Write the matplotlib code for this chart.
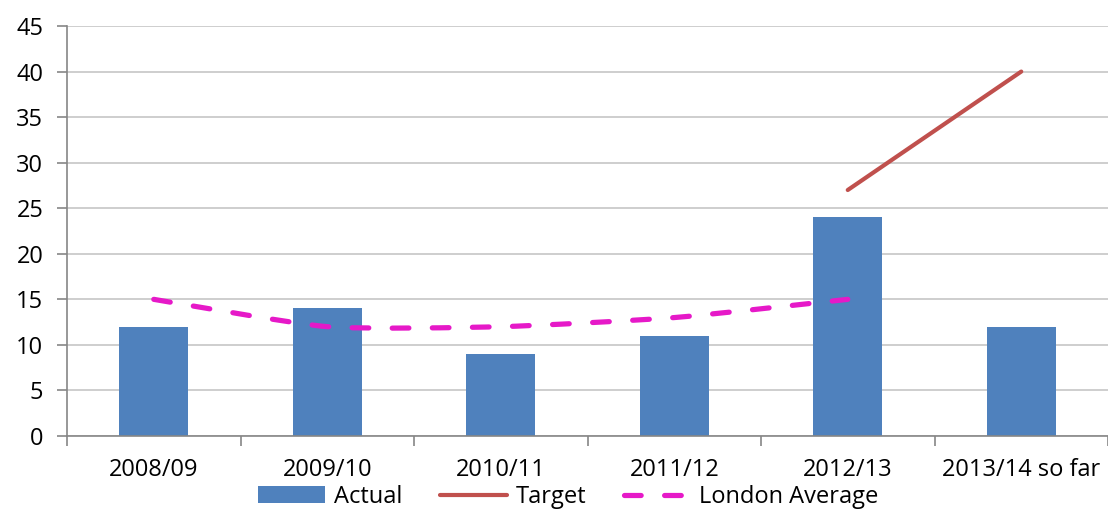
import numpy as np
import matplotlib
matplotlib.use('Agg')
import matplotlib.pyplot as plt
from matplotlib.path import Path
from matplotlib.patches import PathPatch
from matplotlib.lines import Line2D

plt.rcParams['font.family'] = ['Open Sans', 'DejaVu Sans']

categories = ['2008/09', '2009/10', '2010/11', '2011/12', '2012/13', '2013/14 so far']
actual = [12, 14, 9, 11, 24, 12]
target_idx = [4, 5]
target = [27, 40]
london_idx = [0, 1, 2, 3, 4]
london = [15, 12, 12, 13, 15]

bar_color = '#4F81BD'
target_color = '#C0504D'
london_color = '#E619C8'
axis_color = '#868686'
grid_color = '#C6C6C6'
fs = 17


def smooth_path(xs, ys, k=1/10.):
	# smoothed line like Excel: a cubic bezier between each pair of points
	pts = np.column_stack([xs, ys]).astype(float)
	n = len(pts)
	verts = [pts[0]]
	codes = [Path.MOVETO]
	for i in range(n - 1):
		p_prev = pts[max(i - 1, 0)]
		p0 = pts[i]
		p1 = pts[i + 1]
		p_next = pts[min(i + 2, n - 1)]
		c1 = p0 + (p1 - p_prev) * k
		c2 = p1 - (p_next - p0) * k
		verts += [c1, c2, p1]
		codes += [Path.CURVE4] * 3
	return Path(verts, codes)


fig = plt.figure(figsize=(11.08, 5.09), dpi=100)
ax = fig.add_axes([0.0605, 0.1434, 0.9395, 0.8055])

x = np.arange(len(categories))
bars = ax.bar(x, actual, width=0.4, color=bar_color, zorder=2)

tline, = ax.plot(target_idx, target, color=target_color, lw=3.0,
	solid_capstyle='round', zorder=3)

dash = (0, (3.2, 4.5))
patch = PathPatch(smooth_path(london_idx, london), facecolor='none',
	edgecolor=london_color, lw=3.75, linestyle=dash, capstyle='round', zorder=4)
ax.add_patch(patch)
lproxy = Line2D([], [], color=london_color, lw=3.75, linestyle=dash,
	dash_capstyle='round')

ax.set_xlim(-0.5, 5.5)
ax.set_ylim(0, 45)
ax.set_yticks(np.arange(0, 46, 5))
ax.yaxis.grid(True, color=grid_color, lw=1.2, zorder=0)
ax.set_axisbelow(True)

ax.set_xticks(x)
ax.set_xticklabels(categories, fontsize=fs)
ax.set_xticks(np.arange(-0.5, 5.6, 1), minor=True)
ax.tick_params(axis='x', which='major', length=0, pad=16)
ax.tick_params(axis='x', which='minor', length=7, width=1.2, color=axis_color)
ax.tick_params(axis='y', length=7, width=1.2, color=axis_color, pad=10, labelsize=fs)

for s in ['top', 'right']:
	ax.spines[s].set_visible(False)
for s in ['left', 'bottom']:
	ax.spines[s].set_color(axis_color)
	ax.spines[s].set_linewidth(1.2)

fig.legend([bars, tline, lproxy], ['Actual', 'Target', 'London Average'],
	loc='center', bbox_to_anchor=(0.513, 0.024), ncol=3, frameon=False,
	fontsize=fs, handlelength=2.85, handletextpad=0.35, columnspacing=1.6,
	borderpad=0, borderaxespad=0)

fig.savefig('out.png', dpi=100)
